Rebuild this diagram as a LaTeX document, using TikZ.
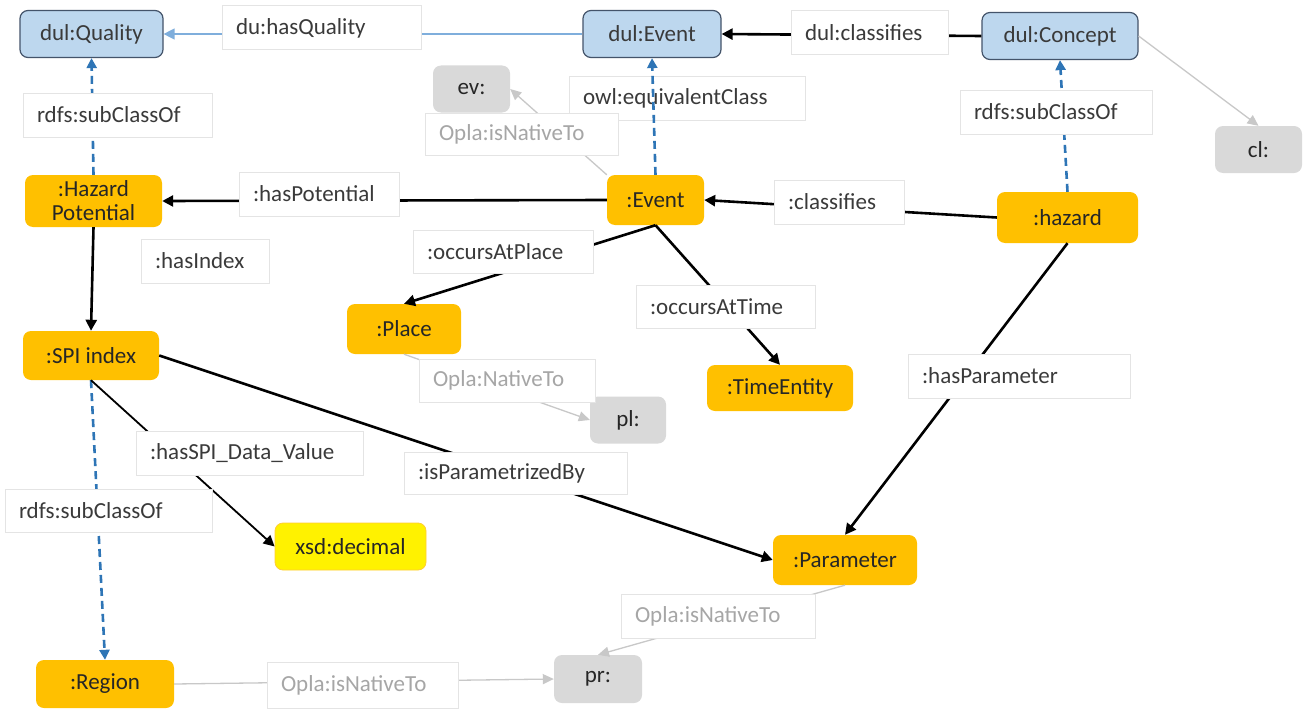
\documentclass[tikz,border=0pt]{standalone}
\usepackage{fontspec}
\setmainfont{Carlito}
\usetikzlibrary{arrows.meta}

\definecolor{clsblue}{HTML}{BDD7EE}
\definecolor{clsedge}{HTML}{44546A}
\definecolor{orng}{HTML}{FFC000}
\definecolor{nsgray}{HTML}{D9D9D9}
\definecolor{lbledge}{HTML}{E4E4E4}
\definecolor{lbltext}{HTML}{3A3A3A}
\definecolor{fainttext}{HTML}{A6A6A6}
\definecolor{faintline}{HTML}{C8C8C8}
\definecolor{subblue}{HTML}{2E75B6}
\definecolor{qblue}{HTML}{7FAEDC}

\tikzset{
  dulcls/.style={draw=clsedge, line width=1.2pt, fill=clsblue, rounded corners=8pt,
    minimum height=47pt, text=lbltext},
  localcls/.style={fill=orng, rounded corners=8pt, minimum height=50pt, text=black!85},
  nsbox/.style={fill=nsgray, rounded corners=8pt, minimum height=47pt, text=black!85},
  lbl/.style={draw=lbledge, line width=1pt, fill=white, text=lbltext, text width=#1,
    align=left, inner xsep=14pt, minimum height=44pt},
  faintlbl/.style={lbl=#1, text=fainttext},
  rel/.style={line width=2.6pt, -{Triangle[length=11pt,width=11pt]}},
  subcls/.style={subblue, line width=2.6pt, dash pattern=on 8pt off 5pt,
    -{Triangle[length=10pt,width=10pt]}},
  native/.style={faintline, line width=1.3pt, -{Triangle[length=11pt,width=10pt]}}
}

\begin{document}
\begin{tikzpicture}[x=1pt, y=-1pt, font=\fontsize{23}{24}\selectfont]
    \useasboundingbox[fill=white] (0,0) rectangle (1303,709);

    % DUL classes
    \node[dulcls, minimum width=143pt] (quality) at (91.5,34) {dul:Quality};
    \node[dulcls, minimum width=138pt] (devent) at (652,34) {dul:Event};
    \node[dulcls, minimum width=156pt] (concept) at (1060,36) {dul:Concept};

    % namespaces
    \node[nsbox, minimum width=77pt] (ev) at (471.5,89) {ev:};
    \node[nsbox, minimum width=87pt] (cl) at (1258.5,149.5) {cl:};
    \node[nsbox, minimum width=76pt] (pl) at (628,420) {pl:};
    \node[nsbox, minimum width=88pt, minimum height=48pt] (pr) at (598,679) {pr:};

    % local classes
    \node[localcls, minimum width=137pt, minimum height=52pt, align=center] (hpot) at (93.5,201) {:Hazard\\Potential};
    \node[localcls, minimum width=97pt] (event) at (655.5,200) {:Event};
    \node[localcls, minimum width=141pt, minimum height=51pt] (hazard) at (1067.5,217.5) {:hazard};
    \node[localcls, minimum width=136pt, minimum height=49pt] (spi) at (91,355.5) {:SPI index};
    \node[localcls, minimum width=114pt] (place) at (404,329) {:Place};
    \node[localcls, minimum width=146pt, minimum height=46pt] (time) at (780,388) {:TimeEntity};
    \node[fill=yellow, draw=orng!80, line width=0.8pt, rounded corners=8pt, minimum width=151pt,
      minimum height=47pt, text=black!85] (dec) at (350.5,546.5) {xsd:decimal};
    \node[localcls, minimum width=144pt] (param) at (845,560) {:Parameter};
    \node[localcls, minimum width=138pt, minimum height=48pt] (region) at (105,684) {:Region};

    % connectors
    \draw[rel, qblue, line width=1.3pt] (devent.west) -- (quality.east);
    \draw[rel] (concept.west) -- (devent.east);
    \draw[native] (concept.east) -- (cl.north);
    \draw[subcls] (hpot.north) -- (quality.south);
    \draw[subcls] (hazard.north) -- (concept.south);
    \draw[subcls] (spi.south) -- (region.north);
    \draw[native] (event.north west) -- (ev.east);
    \draw[rel] (event.west) -- (hpot.east);
    \draw[rel] (hazard.west) -- (event.east);
    \draw[rel] (hpot.south) -- (spi.north);
    \draw[rel] (event.south) -- (place.north);
    \draw[rel] (event.south) -- (time.north);
    \draw[native] (place.south) -- (pl.west);
    \draw[rel] (spi.east) -- (param.west);
    \draw[rel, line width=1.8pt] (spi.south) -- (dec.west);
    \draw[rel] (hazard.south) -- (param.north);
    \draw[native] (param.south) -- (pr.north);
    \draw[native] (region.east) -- (pr.west);

    % property labels
    \node[lbl=171pt] (lhasq) at (321.5,28) {du:hasQuality};
    \node[lbl=129pt] (ldclass) at (869.5,33) {dul:classifies};
    \node[lbl=208pt] (lequiv) at (687,98) {owl:equivalentClass};
    \node[faintlbl=165pt, minimum height=42pt] (lnatev) at (521.5,134) {Opla:isNativeTo};
    \node[lbl=161pt] (lsubq) at (117.5,115) {rdfs:subClassOf};
    \node[lbl=164pt] (lsubc) at (1056,112) {rdfs:subClassOf};
    \node[lbl=132pt] (lpot) at (319,194) {:hasPotential};
    \node[lbl=102pt] (lclass) at (839,202) {:classifies};
    \node[lbl=100pt] (lidx) at (205,261) {:hasIndex};
    \node[lbl=152pt, minimum height=43pt] (lplace) at (503,251.5) {:occursAtPlace};
    \node[lbl=151pt, minimum height=43pt] (ltime) at (725.5,306.5) {:occursAtTime};
    \node[faintlbl=148pt, minimum height=43pt] (lnatpl) at (507,380.5) {Opla:NativeTo};
    \node[lbl=194pt] (lparam) at (1019,376) {:hasParameter};
    \node[lbl=199pt] (lspi) at (249.5,453) {:hasSPI\_Data\_Value};
    \node[lbl=195pt, minimum height=42pt] (lpby) at (515.5,473) {:isParametrizedBy};
    \node[lbl=179pt, minimum height=43pt] (lsubr) at (108.5,510.5) {rdfs:subClassOf};
    \node[faintlbl=166pt] (lnatpr) at (718,616) {Opla:isNativeTo};
    \node[faintlbl=163pt, minimum height=46pt] (lnatrg) at (362.5,685) {Opla:isNativeTo};

    % equivalence runs over its label
    \draw[subcls] (event.north) -- (devent.south);
\end{tikzpicture}
\end{document}
